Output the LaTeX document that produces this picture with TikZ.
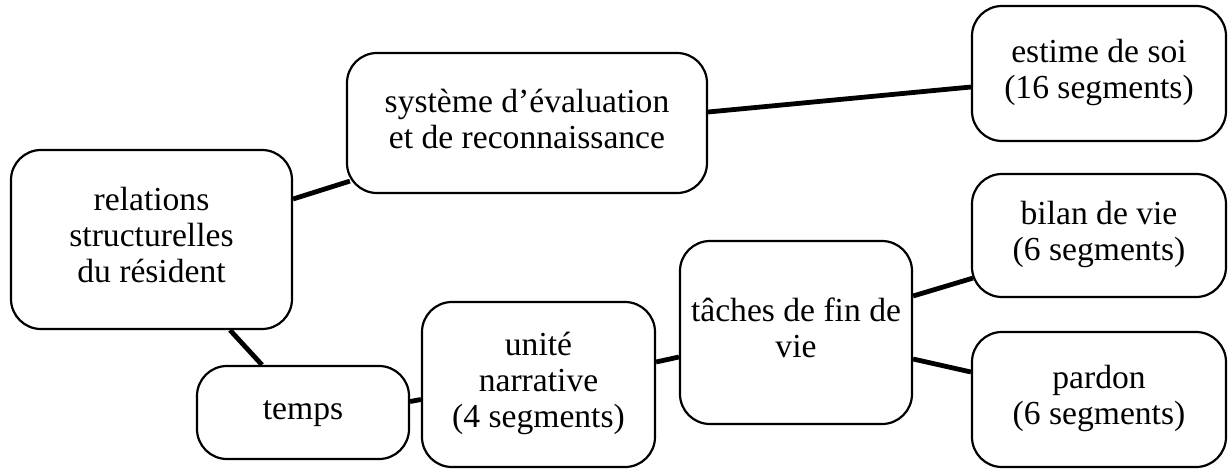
\documentclass[tikz,border=0pt]{standalone}
\usepackage{fontspec}
\setmainfont{Liberation Serif}
\usetikzlibrary{calc}
% centred lines of a box label, optionally raised
\newcommand\boxlines[2][0pt]{\raisebox{#1}{\begin{tabular}{@{}c@{}}#2\end{tabular}}}
\begin{document}
\begin{tikzpicture}[x=0.5pt,y=-0.5pt,
  box/.style={draw, line width=1.1pt, rounded corners=15pt, inner sep=0pt,
              font=\fontsize{16.8}{18}\selectfont},
  link/.style={line width=2.4pt}]
\useasboundingbox (0,0) rectangle (1228,472);

% boxes
\node[box, minimum width=140.5pt, minimum height=89.5pt] (rel) at (151.5,239.5)
  {\boxlines[2.5pt]{relations\\structurelles\\du résident}};
\node[box, minimum width=180pt, minimum height=70pt] (sys) at (527,123)
  {\boxlines{système d’évaluation\\et de reconnaissance}};
\node[box, minimum width=127pt, minimum height=67.5pt] (est) at (1099,73.5)
  {\boxlines{estime de soi\\(16 segments)}};
\node[box, minimum width=127pt, minimum height=61.5pt] (bil) at (1099,235.5)
  {\boxlines[-1.5pt]{bilan de vie\\(6 segments)}};
\node[box, minimum width=127pt, minimum height=67.5pt] (par) at (1099,399.5)
  {\boxlines{pardon\\(6 segments)}};
\node[box, minimum width=116pt, minimum height=91.5pt] (tac) at (796,332.5)
  {\boxlines{tâches de fin de\\vie}};
\node[box, minimum width=116.5pt, minimum height=82.5pt] (uni) at (538.5,384.5)
  {\boxlines[-1.5pt]{unité\\narrative\\(4 segments)}};
\node[box, minimum width=106pt, minimum height=46.5pt] (tem) at (303,412.5)
  {\boxlines{temps}};

% connectors
\draw[link] ($(rel.east)+(0,-40.5)$) -- ($(sys.south west)+(4,-13)$);
\draw[link] ($(sys.east)+(0,-11)$) -- ($(est.west)+(0,13.5)$);
\draw[link] ($(rel.south)+(78.5,0)$) -- ($(tem.north)+(-41,0)$);
\draw[link] ($(tem.east)+(0,-11)$) -- ($(uni.west)+(0,15)$);
\draw[link] ($(uni.east)+(0,-22.5)$) -- ($(tac.west)+(0,24.5)$);
\draw[link] ($(tac.east)+(0,-36.5)$) -- ($(bil.south west)+(2,-20)$);
\draw[link] ($(tac.east)+(0,26.5)$) -- ($(par.west)+(0,-27.5)$);
\end{tikzpicture}
\end{document}
